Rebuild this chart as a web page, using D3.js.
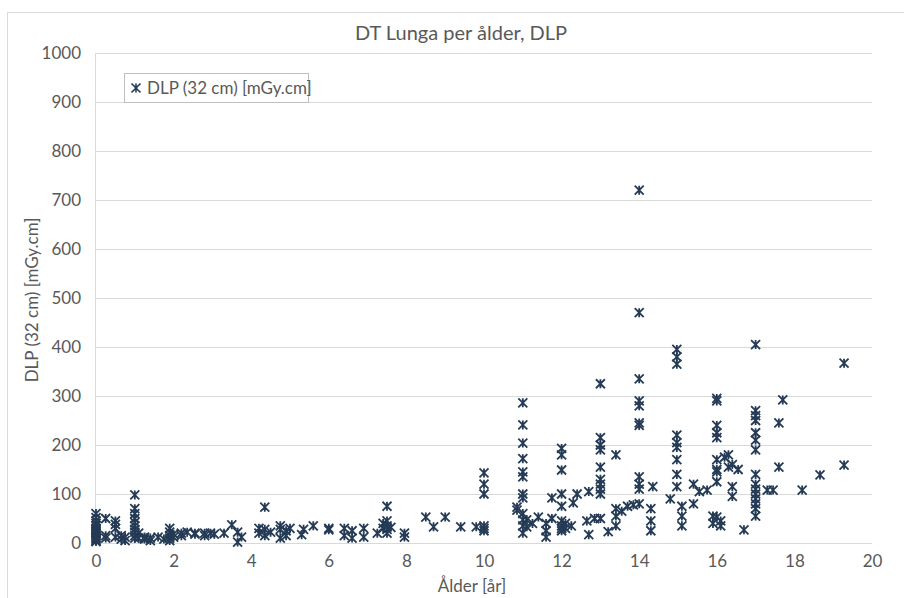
<!DOCTYPE html>
<html>
<head>
<meta charset="utf-8">
<script src="https://cdn.jsdelivr.net/npm/d3@7"></script>
<style>
  html, body { margin: 0; padding: 0; background: #fff; }
  svg { display: block; font-family: Lato, "Open Sans", sans-serif; }
</style>
</head>
<body>
<svg id="chart" width="904" height="598"></svg>
<script>
// Chart text
const chartTitle = "DT Lunga per ålder, DLP";
const xTitle = "Ålder [år]";
const yTitle = "DLP (32 cm) [mGy.cm]";
const seriesName = "DLP (32 cm) [mGy.cm]";

// Tick values
const xTicks = [0, 2, 4, 6, 8, 10, 12, 14, 16, 18, 20];
const yTicks = [0, 100, 200, 300, 400, 500, 600, 700, 800, 900, 1000];

// Patient age (years) per group, and the DLP readings measured at that age
const ages = [
  0.0, 0.25, 0.5, 0.65, 0.75, 1.0, 1.1, 1.25, 1.4, 1.6, 1.75, 1.9, 2.0,
  2.2, 2.35, 2.55, 2.8, 2.95, 3.05, 3.3, 3.5, 3.65, 3.75,
  4.2, 4.35, 4.5, 4.75, 4.9, 5.0, 5.3, 5.35, 5.6, 6.0, 6.4, 6.6, 6.9,
  7.25, 7.4, 7.5, 7.6, 7.95, 8.5, 8.7, 9.0, 9.4, 9.8, 10.0,
  10.85, 11.0, 11.1, 11.25, 11.4, 11.6, 11.75, 12.0, 12.1, 12.25, 12.3,
  12.4, 12.65, 12.7, 12.85, 13.0, 13.2, 13.4, 13.55, 13.7, 13.85, 14.0,
  14.3, 14.35, 14.8, 14.97, 15.1, 15.4, 15.55, 15.75, 15.9, 16.0, 16.1,
  16.2, 16.3, 16.4, 16.55, 16.7, 17.0, 17.3, 17.45, 17.6, 17.7, 18.2,
  18.66, 19.28
];
const dlp = [
  [60, 52, 45, 40, 35, 30, 28, 25, 22, 20, 18, 15, 12, 10, 8, 5, 3],
  [50, 15, 10],
  [45, 38, 30, 12],
  [15, 8],
  [12, 5],
  [98, 70, 60, 50, 42, 35, 28, 22, 15, 10],
  [20, 10],
  [12, 8],
  [10, 5],
  [12],
  [8],
  [30, 22, 15, 10, 5],
  [18, 12],
  [20, 15],
  [22],
  [20, 18],
  [20, 15],
  [20],
  [18],
  [20],
  [37],
  [22, 2],
  [12],
  [30, 20],
  [73, 28, 15],
  [22],
  [35, 28, 10],
  [25, 15],
  [30],
  [17],
  [28],
  [35],
  [30, 27],
  [30, 15],
  [25, 10],
  [30, 12],
  [20],
  [40, 30],
  [75, 45, 35, 28, 20],
  [32],
  [20, 12],
  [53],
  [33],
  [53],
  [33],
  [33],
  [143, 120, 100, 35, 30, 25],
  [73, 67],
  [286, 241, 204, 172, 145, 135, 100, 92, 60, 47, 35, 20],
  [47, 33],
  [40],
  [53],
  [40, 25, 12],
  [92, 50],
  [193, 180, 149, 100, 75, 45, 35, 30, 25],
  [40, 30],
  [35],
  [82],
  [100],
  [45],
  [105, 17],
  [50],
  [325, 215, 200, 190, 155, 130, 120, 110, 100, 50],
  [23],
  [180, 70, 55, 35],
  [65],
  [75],
  [78],
  [720, 470, 335, 290, 280, 245, 240, 135, 120, 110, 80],
  [70, 45, 25],
  [115],
  [90],
  [395, 380, 365, 220, 205, 195, 170, 140, 115],
  [75, 55, 35],
  [120, 80],
  [105],
  [108],
  [55, 40],
  [295, 290, 240, 225, 215, 170, 150, 145, 125, 53],
  [45, 35],
  [175],
  [180, 155],
  [160, 115, 95],
  [150],
  [27],
  [405, 270, 260, 250, 225, 210, 190, 140, 120, 110, 100, 90, 80, 70, 55],
  [108],
  [108],
  [245, 155],
  [292],
  [108],
  [139],
  [367, 159]
];

const points = [];
ages.forEach((a, i) => dlp[i].forEach(v => points.push({ age: a, value: v })));

const svg = d3.select("#chart");
const markerColor = "#243a55";
const textColor = "#595959";
const gridColor = "#d9d9d9";

// Chart-area frame
svg.append("path")
  .attr("d", "M7.5,598 L7.5,12.5 L904,12.5")
  .attr("fill", "none")
  .attr("stroke", "#d9d9d9")
  .attr("stroke-width", 1);

const x = d3.scaleLinear().domain([0, 20]).range([96, 872]);
const y = d3.scaleLinear().domain([0, 1000]).range([543, 53]);

// Horizontal gridlines
svg.append("g")
  .selectAll("line")
  .data(yTicks)
  .join("line")
  .attr("x1", x(0))
  .attr("x2", x(20))
  .attr("y1", d => Math.round(y(d)) + 0.5)
  .attr("y2", d => Math.round(y(d)) + 0.5)
  .attr("stroke", gridColor)
  .attr("stroke-width", 1);

// Value axis line
svg.append("line")
  .attr("x1", x(0) - 0.5).attr("x2", x(0) - 0.5)
  .attr("y1", y(1000)).attr("y2", y(0))
  .attr("stroke", gridColor);

// Y axis labels
const yAxis = svg.append("g")
  .attr("transform", `translate(${x(0) - 15},0)`)
  .call(d3.axisLeft(y).tickValues(yTicks).tickFormat(d3.format("d")).tickSize(0).tickPadding(0));
yAxis.select(".domain").remove();
yAxis.selectAll("text")
  .attr("fill", textColor)
  .style("font-size", "17px")
  .style("font-family", "Lato, sans-serif");

// X axis labels
const xAxis = svg.append("g")
  .attr("transform", `translate(0,${y(0) + 12})`)
  .call(d3.axisBottom(x).tickValues(xTicks).tickFormat(d3.format("d")).tickSize(0).tickPadding(0));
xAxis.select(".domain").remove();
xAxis.selectAll("text")
  .attr("fill", textColor)
  .style("font-size", "17px")
  .style("font-family", "Lato, sans-serif");

// Title
svg.append("text")
  .attr("x", 461).attr("y", 40)
  .attr("text-anchor", "middle")
  .attr("fill", textColor)
  .style("font-size", "20px")
  .text(chartTitle);

// Axis titles
svg.append("text")
  .attr("x", (x(0) + x(20)) / 2 - 12).attr("y", 592)
  .attr("text-anchor", "middle")
  .attr("fill", textColor)
  .style("font-size", "17px")
  .text(xTitle);

svg.append("text")
  .attr("transform", `translate(38,300) rotate(-90)`)
  .attr("text-anchor", "middle")
  .attr("fill", textColor)
  .style("font-size", "17px")
  .text(yTitle);

// Star marker: X crossed by a vertical stroke
const s = 4.5;
const starPath = `M${-s},${-s}L${s},${s}M${-s},${s}L${s},${-s}M0,${-s}L0,${s}`;

svg.append("g")
  .selectAll("path")
  .data(points)
  .join("path")
  .attr("transform", d => `translate(${x(d.age)},${y(d.value)})`)
  .attr("d", starPath)
  .attr("fill", "none")
  .attr("stroke", markerColor)
  .attr("stroke-width", 1.8);

// Legend
const legend = svg.append("g");
legend.append("rect")
  .attr("x", 124.5).attr("y", 73.5)
  .attr("width", 184).attr("height", 29)
  .attr("fill", "#fff")
  .attr("stroke", "#bfbfbf");
legend.append("path")
  .attr("transform", "translate(136,88)")
  .attr("d", starPath)
  .attr("fill", "none")
  .attr("stroke", markerColor)
  .attr("stroke-width", 1.6);
legend.append("text")
  .attr("x", 147).attr("y", 94)
  .attr("fill", textColor)
  .style("font-size", "17px")
  .text(seriesName);
</script>
</body>
</html>
